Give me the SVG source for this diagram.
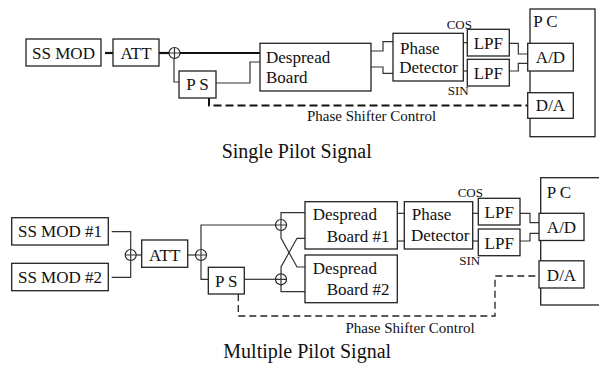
<svg xmlns="http://www.w3.org/2000/svg" width="599" height="367" viewBox="0 0 599 367">
<defs>
<style>
.box{fill:#fff;stroke:#222;stroke-width:1.3}
.ln{fill:none;stroke:#333;stroke-width:1.2}
.thk{fill:none;stroke:#111;stroke-width:2.2}
.dash{fill:none;stroke:#111;stroke-width:2;stroke-dasharray:8,4}
.dash2{fill:none;stroke:#222;stroke-width:1.3;stroke-dasharray:7,4}
.sum{fill:#fff;stroke:#222;stroke-width:1.2}
text{font-family:"Liberation Serif","Times New Roman",serif;fill:#111}
.t{font-size:17px}
.c{text-anchor:middle}
.s{font-size:13px}
.m{font-size:15px}
.cap{font-size:20px}
</style>
<g id="summer">
<circle class="sum" cx="0" cy="0" r="5.5"/>
<path class="ln" d="M-5.5,0H5.5M0,-5.5V5.5"/>
</g>
</defs>

<!-- ===== Single Pilot Signal ===== -->
<g id="connectors-top">
<path class="thk" d="M105,53H113"/>
<path class="thk" d="M159,53H169"/>
<path class="thk" d="M180,53H260"/>
<path class="ln" d="M174,58.5V82H179"/>
<path class="ln" d="M216,83H250V62H260"/>
<path class="ln" d="M371,51H383V41.7H393"/>
<path class="ln" d="M371,67H383V73.3H393"/>
<path class="ln" d="M463.3,42.7H467.3"/>
<path class="ln" d="M463.3,71H467.3"/>
<path class="ln" d="M509.3,43.3H518.3V54H527.7"/>
<path class="ln" d="M509.3,71H518.3V63.3H527.7"/>
<path class="dash" d="M209,98V105.5H527.7"/>
</g>
<g id="sum-top"><use href="#summer" x="174.5" y="53"/></g>
<g id="ssmod"><rect class="box" x="26" y="39" width="75" height="27"/><text class="t c" x="63.5" y="59">SS MOD</text></g>
<g id="att"><rect class="box" x="113" y="39" width="46" height="27"/><text class="t c" x="136" y="59">ATT</text></g>
<g id="ps"><rect class="box" x="179" y="71" width="37" height="27"/><text class="t c" x="197.5" y="90">P S</text></g>
<g id="despread"><rect class="box" x="260" y="43.3" width="111" height="47.7"/><text class="t" x="266" y="63">Despread</text><text class="t" x="266" y="83">Board</text></g>
<g id="pd"><rect class="box" x="393" y="33.3" width="70.3" height="47.7"/><text class="t" x="400" y="54.3">Phase</text><text class="t" x="399.3" y="72.7">Detector</text></g>
<g id="lpf1"><rect class="box" x="467.3" y="29.3" width="42" height="26.7"/><text class="t c" x="488.3" y="49">LPF</text></g>
<g id="lpf2"><rect class="box" x="467.3" y="59.3" width="42" height="26.7"/><text class="t c" x="488.3" y="79">LPF</text></g>
<text class="s" x="446.7" y="29">COS</text>
<text class="s" x="447.7" y="95">SIN</text>
<g id="pc"><rect class="box" x="530" y="9" width="65" height="127.7"/><text class="t" x="533.3" y="27.3">P C</text></g>
<g id="ad"><rect class="box" x="527.7" y="43.3" width="45.6" height="27.7"/><text class="t c" x="550.5" y="63">A/D</text></g>
<g id="da"><rect class="box" x="527.7" y="92.7" width="45.6" height="25.6"/><text class="t c" x="550.5" y="111">D/A</text></g>
<text class="m" x="307" y="120.7">Phase Shifter Control</text>
<text class="cap" x="221.7" y="158.3">Single Pilot Signal</text>

<!-- ===== Multiple Pilot Signal ===== -->
<g id="connectors-bottom">
<path class="ln" d="M111.7,231.7H130.7V249.5"/>
<path class="ln" d="M111.7,277.3H130.7V260.5"/>
<path class="ln" d="M136.2,255H141.7"/>
<path class="ln" d="M187.7,255H195.5"/>
<path class="ln" d="M201,249.5V225H275.5"/>
<path class="ln" d="M201,260.5V279.3H208.3"/>
<path class="ln" d="M244.3,279.3H275.5"/>
<path class="ln" d="M281,219.5V212.7H305"/>
<path class="ln" d="M281,230.5V238L297,267H305"/>
<path class="ln" d="M281,273.8V267L297,238.3H305"/>
<path class="ln" d="M281,284.8V291.7H305"/>
<path class="ln" d="M397.3,213.3H404.3"/>
<path class="ln" d="M397.3,241H404.3"/>
<path class="ln" d="M472.7,213.3H478.3"/>
<path class="ln" d="M472.7,241H478.3"/>
<path class="ln" d="M520,213.3H530V222.7H539"/>
<path class="ln" d="M520,241H530V233.3H539"/>
<path class="dash2" d="M238.3,294V316H495V276H539"/>
</g>
<g id="sum-b1"><use href="#summer" x="130.7" y="255"/></g>
<g id="sum-b2"><use href="#summer" x="201" y="255" stroke-width="2"/></g>
<g id="sum-b3"><use href="#summer" x="281" y="225"/></g>
<g id="sum-b4"><use href="#summer" x="281" y="279.3"/></g>
<g id="ssmod1"><rect class="box" x="11.7" y="217.7" width="96.6" height="27.3"/><text class="t c" x="60" y="237">SS MOD #1</text></g>
<g id="ssmod2"><rect class="box" x="11.7" y="263.3" width="96.6" height="27.4"/><text class="t c" x="60" y="282.7">SS MOD #2</text></g>
<g id="att2"><rect class="box" x="141.7" y="240" width="46" height="27.3"/><text class="t c" x="164.7" y="260.5">ATT</text></g>
<g id="ps2"><rect class="box" x="208.3" y="267.3" width="36" height="26.7"/><text class="t c" x="226.3" y="286.5">P S</text></g>
<g id="desp1"><rect class="box" x="305" y="201.7" width="92.3" height="47.3"/><text class="t" x="312.7" y="220">Despread</text><text class="t" x="326.7" y="242.3">Board #1</text></g>
<g id="desp2"><rect class="box" x="305" y="255" width="92.3" height="47.7"/><text class="t" x="312.7" y="273.5">Despread</text><text class="t" x="326.7" y="295">Board #2</text></g>
<g id="pd2"><rect class="box" x="404.3" y="201.7" width="68.4" height="47.3"/><text class="t" x="411.7" y="220">Phase</text><text class="t" x="411" y="241">Detector</text></g>
<g id="lpf3"><rect class="box" x="478.3" y="198.3" width="41.7" height="26.7"/><text class="t c" x="499.2" y="218">LPF</text></g>
<g id="lpf4"><rect class="box" x="478.3" y="229" width="41.7" height="26.7"/><text class="t c" x="499.2" y="248.5">LPF</text></g>
<text class="s" x="457.7" y="196.7">COS</text>
<text class="s" x="459.3" y="265">SIN</text>
<g id="pc2"><rect class="box" x="540.7" y="177.7" width="70" height="127.3"/><text class="t" x="546.7" y="198.3">P C</text></g>
<g id="ad2"><rect class="box" x="539" y="213.3" width="45" height="27.2"/><text class="t c" x="561.5" y="233">A/D</text></g>
<g id="da2"><rect class="box" x="539" y="260.8" width="45" height="27.2"/><text class="t c" x="561.5" y="280.5">D/A</text></g>
<text class="m" x="345.5" y="333.3">Phase Shifter Control</text>
<text class="cap" x="223.3" y="358">Multiple Pilot Signal</text>
</svg>
